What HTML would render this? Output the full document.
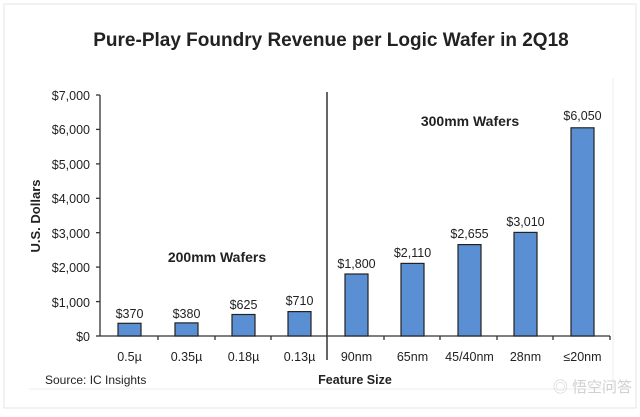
<!DOCTYPE html>
<html><head><meta charset="utf-8"><style>
body{margin:0;background:#fff;}
svg text{font-family:"Liberation Sans",sans-serif;fill:#222;}
</style></head><body>
<svg width="640" height="412" viewBox="0 0 640 412" xmlns="http://www.w3.org/2000/svg">
<rect x="0" y="0" width="640" height="412" fill="#fff"/>
<rect x="4" y="4" width="632" height="404" fill="none" stroke="#e4e4e4" stroke-width="1"/>
<line x1="29" y1="389" x2="613" y2="389" stroke="#eee"/>
<line x1="613" y1="78" x2="613" y2="389" stroke="#eee"/>
<text x="331" y="46" font-size="19" font-weight="bold" text-anchor="middle">Pure-Play Foundry Revenue per Logic Wafer in 2Q18</text>
<g font-size="12.5" text-anchor="end">
<text x="90" y="100">$7,000</text>
<text x="90" y="134">$6,000</text>
<text x="90" y="169">$5,000</text>
<text x="90" y="203">$4,000</text>
<text x="90" y="238">$3,000</text>
<text x="90" y="272">$2,000</text>
<text x="90" y="307">$1,000</text>
<text x="90" y="341">$0</text>
</g>
<text transform="translate(40,216) rotate(-90)" font-size="13" font-weight="bold" text-anchor="middle">U.S. Dollars</text>
<g stroke="#333" stroke-width="1.3">
<line x1="100" y1="95" x2="100" y2="336"/>
<line x1="96" y1="95" x2="100" y2="95"/><line x1="96" y1="129.4" x2="100" y2="129.4"/>
<line x1="96" y1="163.9" x2="100" y2="163.9"/><line x1="96" y1="198.3" x2="100" y2="198.3"/>
<line x1="96" y1="232.7" x2="100" y2="232.7"/><line x1="96" y1="267.1" x2="100" y2="267.1"/>
<line x1="96" y1="301.6" x2="100" y2="301.6"/><line x1="96" y1="336" x2="100" y2="336"/>
<line x1="100" y1="336" x2="610" y2="336"/>
<line x1="158" y1="336" x2="158" y2="340"/><line x1="215" y1="336" x2="215" y2="340"/>
<line x1="271" y1="336" x2="271" y2="340"/><line x1="384" y1="336" x2="384" y2="340"/>
<line x1="440" y1="336" x2="440" y2="340"/><line x1="497" y1="336" x2="497" y2="340"/>
<line x1="553" y1="336" x2="553" y2="340"/><line x1="610" y1="336" x2="610" y2="340"/>
<line x1="327" y1="92" x2="327" y2="360" stroke-width="1.5"/>
</g>
<g fill="#5b8fd4" stroke="#222" stroke-width="1.2">
<rect x="118" y="323.3" width="23" height="12.7"/>
<rect x="175" y="322.9" width="23" height="13.1"/>
<rect x="232" y="314.5" width="23" height="21.5"/>
<rect x="288" y="311.6" width="23" height="24.4"/>
<rect x="345" y="274" width="23" height="62"/>
<rect x="401" y="263.4" width="23" height="72.6"/>
<rect x="458" y="244.6" width="23" height="91.4"/>
<rect x="514" y="232.4" width="23" height="103.6"/>
<rect x="571" y="127.8" width="23" height="208.2"/>
</g>
<g font-size="12.5" text-anchor="middle">
<text x="129.5" y="318">$370</text>
<text x="186.5" y="318">$380</text>
<text x="243.5" y="309">$625</text>
<text x="299.5" y="305">$710</text>
<text x="356.5" y="268">$1,800</text>
<text x="412.5" y="257">$2,110</text>
<text x="469.5" y="238">$2,655</text>
<text x="525.5" y="226">$3,010</text>
<text x="582.5" y="120">$6,050</text>
<text x="129.5" y="361">0.5µ</text>
<text x="186.5" y="361">0.35µ</text>
<text x="243.5" y="361">0.18µ</text>
<text x="299.5" y="361">0.13µ</text>
<text x="356.5" y="361">90nm</text>
<text x="412.5" y="361">65nm</text>
<text x="469.5" y="361">45/40nm</text>
<text x="525.5" y="361">28nm</text>
<text x="582.5" y="361">≤20nm</text>
</g>
<text x="217" y="262" font-size="14" font-weight="bold" text-anchor="middle">200mm Wafers</text>
<text x="470" y="126" font-size="14" font-weight="bold" text-anchor="middle">300mm Wafers</text>
<text x="355" y="384" font-size="12.5" font-weight="bold" text-anchor="middle">Feature Size</text>
<text x="45" y="384" font-size="12">Source: IC Insights</text>
<text x="632" y="392" font-size="15" style="fill:#d0d0d0" text-anchor="end" font-family="Noto Sans CJK SC">◎ 悟空问答</text>
</svg>
</body></html>
